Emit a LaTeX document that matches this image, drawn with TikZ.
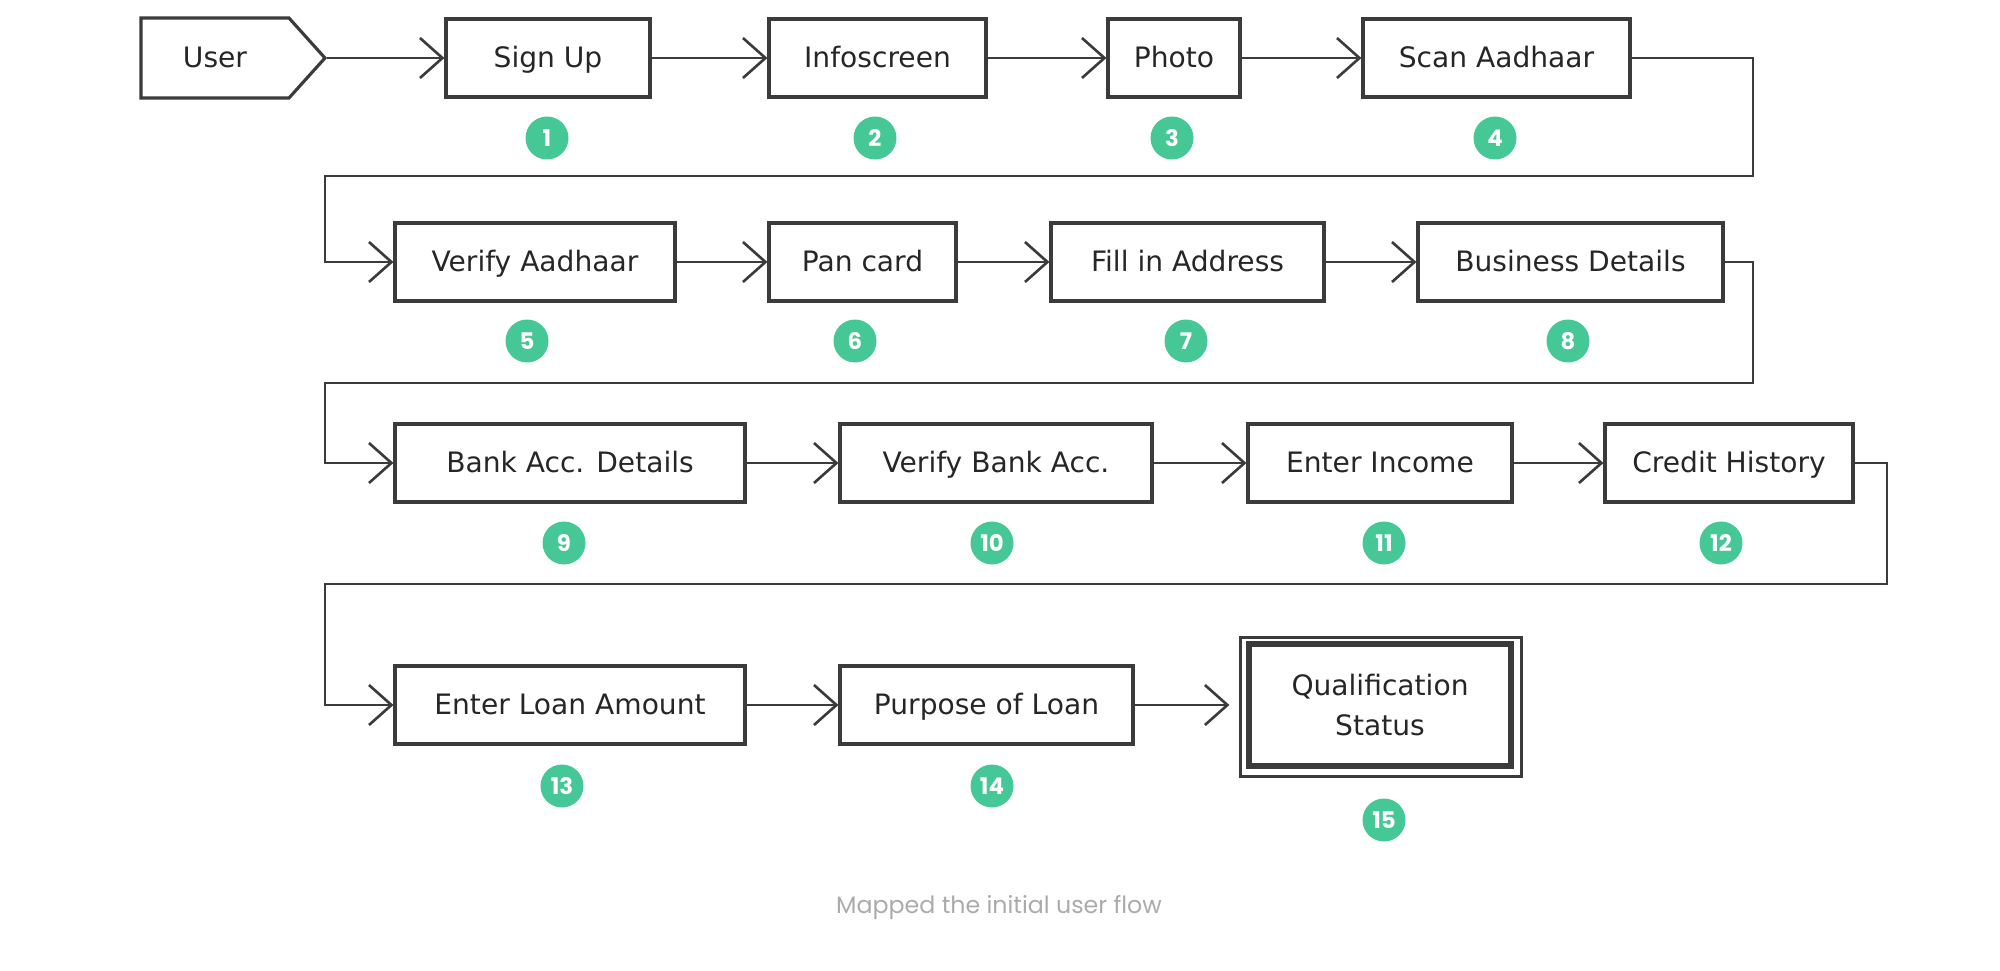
\documentclass[tikz,border=0pt]{standalone}
\usepackage{fontspec}
\setmainfont{DejaVu Sans}
\newfontfamily\numfont{Poppins}
\usetikzlibrary{arrows.meta,shapes.symbols}
\definecolor{ink}{HTML}{3B3B3B}
\definecolor{mint}{HTML}{45C796}
\definecolor{capgray}{HTML}{ABABAB}
\begin{document}
\begin{tikzpicture}[x=0.02cm, y=-0.02cm,
        endbox/.style={draw=ink, line width=1.8pt, minimum height=1.56cm,
            inner sep=0pt, text=black!85, align=center,
            font=\fontsize{16pt}{23pt}\selectfont},
        stepbox/.style={endbox, text height=13pt, text depth=2.4pt},
        badge/.style={circle, fill=mint, minimum size=0.86cm, inner sep=0pt,
            text=white, font=\numfont\bfseries\fontsize{13pt}{15pt}\selectfont},
        flow/.style={->, draw=ink, line width=1.5pt},
        >={Straight Barb[length=4.5mm, width=8mm]}]
    \useasboundingbox (0, 0) rectangle (2000, 970);
    % row 1
    \node [stepbox, signal, signal to=east, signal pointer angle=96,
        minimum width=3.68cm, minimum height=1.6cm] (user) at (215, 58) {User};
    \node [stepbox, minimum width=4.08cm] (signup) at (548, 58) {Sign Up};
    \node [stepbox, minimum width=4.34cm] (info) at (877.5, 58) {Infoscreen};
    \node [stepbox, minimum width=2.64cm] (photo) at (1174, 58) {Photo};
    \node [stepbox, minimum width=5.34cm] (scan) at (1496.5, 58) {Scan Aadhaar};
    % row 2
    \node [stepbox, minimum width=5.6cm] (vaadhaar) at (535, 262) {Verify Aadhaar};
    \node [stepbox, minimum width=3.74cm] (pan) at (862.5, 262) {Pan card};
    \node [stepbox, minimum width=5.46cm] (address) at (1187.5, 262) {Fill in Address};
    \node [stepbox, minimum width=6.1cm] (business) at (1570.5, 262) {Business Details};
    % row 3
    \node [stepbox, minimum width=7cm] (bank) at (570, 463) {Bank Acc. Details};
    \node [stepbox, minimum width=6.24cm] (vbank) at (996, 463) {Verify Bank Acc.};
    \node [stepbox, minimum width=5.28cm] (income) at (1380, 463) {Enter Income};
    \node [stepbox, minimum width=4.96cm] (credit) at (1729, 463) {Credit History};
    % row 4
    \node [stepbox, minimum width=7cm] (loan) at (570, 705) {Enter Loan Amount};
    \node [stepbox, minimum width=5.86cm] (purpose) at (986.5, 705) {Purpose of Loan};
    \node [endbox, line width=3pt, minimum width=5.24cm, minimum height=2.44cm]
        (qual) at (1380, 705) {Qualification\\Status};
    \draw [ink, line width=1.5pt] ([shift={(-6, -4)}]qual.north west)
        rectangle ([shift={(8, 8)}]qual.south east);
    % numbers
    \node [badge] (n1) at (547, 138) {1};
    \node [badge] (n2) at (875, 138) {2};
    \node [badge] (n3) at (1172, 138) {3};
    \node [badge] (n4) at (1495, 138) {4};
    \node [badge] (n5) at (527, 341) {5};
    \node [badge] (n6) at (855, 341) {6};
    \node [badge] (n7) at (1186, 341) {7};
    \node [badge] (n8) at (1568, 341) {8};
    \node [badge] (n9) at (564, 543) {9};
    \node [badge] (n10) at (992, 543) {10};
    \node [badge] (n11) at (1384, 543) {11};
    \node [badge] (n12) at (1721, 543) {12};
    \node [badge] (n13) at (562, 786) {13};
    \node [badge] (n14) at (992, 786) {14};
    \node [badge] (n15) at (1384, 820) {15};
    % flow
    \draw [flow] (user.east) -- (signup.west);
    \draw [flow] (signup.east) -- (info.west);
    \draw [flow] (info.east) -- (photo.west);
    \draw [flow] (photo.east) -- (scan.west);
    \draw [flow] (scan.east) -| (1753, 176) -| (325, 262) -- (vaadhaar.west);
    \draw [flow] (vaadhaar.east) -- (pan.west);
    \draw [flow] (pan.east) -- (address.west);
    \draw [flow] (address.east) -- (business.west);
    \draw [flow] (business.east) -| (1753, 383) -| (325, 463) -- (bank.west);
    \draw [flow] (bank.east) -- (vbank.west);
    \draw [flow] (vbank.east) -- (income.west);
    \draw [flow] (income.east) -- (credit.west);
    \draw [flow] (credit.east) -| (1887, 584) -| (325, 705) -- (loan.west);
    \draw [flow] (loan.east) -- (purpose.west);
    \draw [flow, shorten >=0.34cm] (purpose.east) -- (qual.west);
    \node [text=capgray, font=\numfont\fontsize{13.5pt}{16pt}\selectfont]
        (caption) at (999, 908) {Mapped the initial user flow};
\end{tikzpicture}
\end{document}
